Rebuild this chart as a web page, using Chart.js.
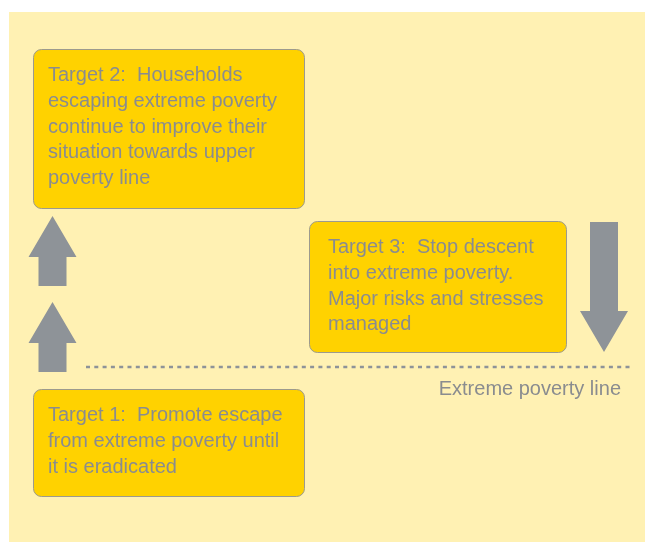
<!DOCTYPE html>
<html><head><meta charset="utf-8">
<script src="https://cdn.jsdelivr.net/npm/chart.js@4/dist/chart.umd.min.js"></script>
<style>html,body{margin:0;padding:0;background:#fff;overflow:hidden}#wrap{width:645px;height:542px;position:relative}</style>
</head><body><div id="wrap"><canvas id="c"></canvas></div>
<script>
// Diagram content (values in diagram units on the hidden x / y axes)
const targetLabels = [
  ["Target 2:  Households", "escaping extreme poverty", "continue to improve their", "situation towards upper", "poverty line"],
  ["Target 3:  Stop descent", "into extreme poverty.", "Major risks and stresses", "managed"],
  ["Target 1:  Promote escape", "from extreme poverty until", "it is eradicated"]
];
const targetXStart = [33, 309, 33];
const targetXEnd = [304, 566, 304];
const targetYTop = [49, 221, 389];
const targetYBottom = [208, 352, 496];
const targetTextX = [48, 328, 48];
const arrowX = [52.5, 52.5, 604];
const arrowTail = [286, 372, 222];
const arrowTip = [216, 302, 352];
const povertyLineX = [86, 630];
const povertyLineY = [367, 367];
const povertyLineLabel = "Extreme poverty line";
const panelX = [9, 660];
const panelY = [12, 560];

const FONT = '20px "Liberation Sans", Arial, sans-serif';
const TEXT_COLOR = '#8a8c8f';
const ARROW_COLOR = '#8e9398';

const diagramPlugin = {
  id: 'diagram',
  beforeDatasetsDraw(chart) {
    const ctx = chart.ctx, xs = chart.scales.x, ys = chart.scales.y;
    const X = v => xs.getPixelForValue(v), Y = v => ys.getPixelForValue(v);
    ctx.save();
    ctx.fillStyle = '#fff1b3';
    ctx.fillRect(X(panelX[0]), Y(panelY[0]), X(panelX[1]) - X(panelX[0]), Y(panelY[1]) - Y(panelY[0]));
    targetLabels.forEach((lines, i) => {
      const x0 = X(targetXStart[i]), x1 = X(targetXEnd[i]);
      const y0 = Y(targetYTop[i]), y1 = Y(targetYBottom[i]);
      ctx.beginPath();
      ctx.roundRect(x0 + 0.5, y0 + 0.5, x1 - x0, y1 - y0, 8);
      ctx.fillStyle = '#ffd200';
      ctx.fill();
      ctx.lineWidth = 1;
      ctx.strokeStyle = '#9c9a8e';
      ctx.stroke();
      ctx.fillStyle = TEXT_COLOR;
      ctx.font = FONT;
      ctx.textBaseline = 'alphabetic';
      ctx.textAlign = 'left';
      const tx = X(targetTextX[i]);
      lines.forEach((t, j) => ctx.fillText(t, tx, y0 + 32 + j * 25.8));
    });
    arrowX.forEach((ax, i) => {
      const cx = X(ax), tail = Y(arrowTail[i]), tip = Y(arrowTip[i]);
      const dir = tip < tail ? -1 : 1;
      const headLen = 41, headHalf = 24, shaftHalf = 14;
      const base = tip - dir * headLen;
      ctx.beginPath();
      ctx.moveTo(cx - shaftHalf, tail);
      ctx.lineTo(cx - shaftHalf, base);
      ctx.lineTo(cx - headHalf, base);
      ctx.lineTo(cx, tip);
      ctx.lineTo(cx + headHalf, base);
      ctx.lineTo(cx + shaftHalf, base);
      ctx.lineTo(cx + shaftHalf, tail);
      ctx.closePath();
      ctx.fillStyle = ARROW_COLOR;
      ctx.fill();
    });
    ctx.restore();
  },
  afterDatasetsDraw(chart) {
    const ctx = chart.ctx, xs = chart.scales.x, ys = chart.scales.y;
    ctx.save();
    ctx.fillStyle = TEXT_COLOR;
    ctx.font = FONT;
    ctx.textAlign = 'right';
    ctx.textBaseline = 'alphabetic';
    ctx.fillText(povertyLineLabel, xs.getPixelForValue(povertyLineX[1]) - 9, ys.getPixelForValue(povertyLineY[0]) + 28);
    ctx.restore();
  }
};

new Chart(document.getElementById('c'), {
  type: 'scatter',
  data: {
    datasets: [{
      type: 'line',
      data: povertyLineX.map((x, i) => ({ x, y: povertyLineY[i] })),
      borderColor: ARROW_COLOR,
      borderWidth: 2.5,
      borderDash: [4, 4.3],
      pointRadius: 0,
      fill: false
    }]
  },
  options: {
    responsive: true,
    maintainAspectRatio: false,
    animation: false,
    events: [],
    layout: { padding: 0 },
    plugins: { legend: { display: false }, tooltip: { enabled: false } },
    scales: {
      x: { type: 'linear', min: 0, max: 645, display: false },
      y: { type: 'linear', min: 0, max: 542, reverse: true, display: false }
    }
  },
  plugins: [diagramPlugin]
});
</script>
</body></html>
